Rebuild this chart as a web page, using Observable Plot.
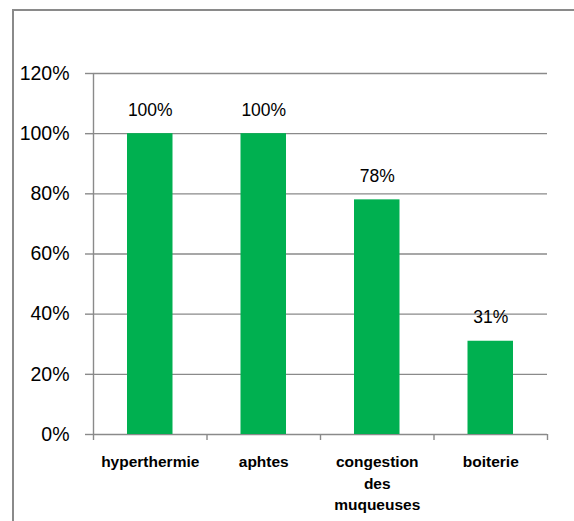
<!DOCTYPE html>
<html>
<head>
<meta charset="utf-8">
<script src="https://cdn.jsdelivr.net/npm/d3@7"></script>
<script src="https://cdn.jsdelivr.net/npm/@observablehq/plot@0.6"></script>
<style>
  html, body { margin: 0; padding: 0; background: #fff; overflow: hidden; }
  #wrap { position: relative; width: 574px; height: 521px; }
  #box {
    position: absolute; left: 12px; top: 9px; width: 700px; height: 700px;
    border: 2px solid #8a8a8a; box-sizing: border-box;
  }
  #chart { position: absolute; left: 0; top: 0; }
</style>
</head>
<body>
<div id="wrap"><div id="box"></div><div id="chart"></div></div>
<script>
// Symptom frequencies
const categories = ["hyperthermie", "aphtes", "congestion\ndes\nmuqueuses", "boiterie"];
const values = [1.00, 1.00, 0.78, 0.31];
const yTicks = [0, 0.2, 0.4, 0.6, 0.8, 1.0, 1.2];

const rows = categories.map((c, i) => ({label: c, i, value: values[i]}));
const boundaries = d3.range(categories.length + 1);
const pct = d3.format(".0%");
const font = "'Liberation Sans', Arial, sans-serif";
const grid = "#8a8a8a";

const chart = Plot.plot({
  width: 574,
  height: 521,
  marginLeft: 93,
  marginRight: 27,
  marginTop: 73,
  marginBottom: 87,
  style: {fontFamily: font, background: "transparent", color: "#000"},
  x: {domain: [0, categories.length]},
  y: {domain: [0, 1.2]},
  marks: [
    Plot.ruleY(yTicks, {stroke: grid, strokeWidth: 1.4}),
    Plot.axisY({
      ticks: yTicks, tickFormat: pct, tickSize: 8, tickPadding: 16,
      stroke: grid, strokeWidth: 1.4, strokeOpacity: 1,
      fontSize: 19.5, fill: "#000", label: null
    }),
    Plot.ruleX([0], {stroke: grid, strokeWidth: 1.4}),
    Plot.axisX({
      ticks: boundaries, tickFormat: () => "", tickSize: 6,
      stroke: grid, strokeWidth: 1.4, strokeOpacity: 1, label: null
    }),
    Plot.rectY(rows, {
      x1: "i", x2: d => d.i + 1, y: "value",
      insetLeft: 34, insetRight: 34, fill: "#00b050"
    }),
    Plot.text(rows, {
      x: d => d.i + 0.5, y: "value", text: d => pct(d.value),
      lineAnchor: "bottom", dy: -18, fontSize: 17.5, fill: "#000"
    }),
    Plot.text(rows, {
      x: d => d.i + 0.5, y: () => 0, text: "label",
      lineAnchor: "top", dy: 17, lineHeight: 1.4,
      fontSize: 15.5, fontWeight: "bold", fill: "#000"
    })
  ]
});
document.getElementById("chart").append(chart);
</script>
</body>
</html>
